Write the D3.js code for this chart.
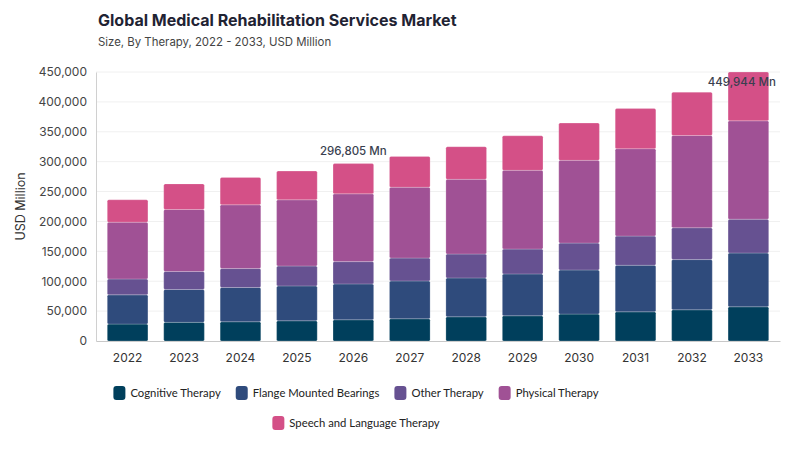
<!DOCTYPE html>
<html>
<head>
<meta charset="utf-8">
<script src="https://cdn.jsdelivr.net/npm/d3@7"></script>
<style>
  body { margin: 0; background: #fff; }
  svg { font-family: Inter, "Noto Sans", sans-serif; }
</style>
</head>
<body>
<div id="chart"></div>
<script>
// chart data
var years = ['2022','2023','2024','2025','2026','2027','2028','2029','2030','2031','2032','2033'];
var seriesNames = ['Cognitive Therapy','Flange Mounted Bearings','Other Therapy','Physical Therapy','Speech and Language Therapy'];
var cognitive = [28300, 31200, 32200, 33800, 35500, 37200, 40500, 42200, 45000, 48800, 52200, 57200];
var flange    = [48900, 55000, 57300, 58400, 60000, 63300, 65000, 70000, 73800, 77900, 84000, 90000];
var other     = [26600, 30000, 31700, 33300, 37300, 38300, 40000, 41600, 45000, 48800, 53300, 56600];
var physical  = [95000, 103800, 106600, 110700, 113400, 118400, 125000, 131700, 138400, 146200, 154300, 164500];
var speech    = [37400, 42800, 45900, 48000, 50605, 51600, 54500, 57800, 62300, 67100, 72400, 81644];
var yTicks = [0, 50000, 100000, 150000, 200000, 250000, 300000, 350000, 400000, 450000];
var labelYears = ['2026', '2033'];

var colors = ['#003f5c', '#2f4b7c', '#665191', '#a05195', '#d45087'];

var W = 800, H = 450;
var margin = {top: 72, right: 20, bottom: 109, left: 96};
var width = W - margin.left - margin.right,
    height = H - margin.top - margin.bottom;

var svg = d3.select('#chart').append('svg')
    .attr('width', W)
    .attr('height', H);

svg.append('text')
    .attr('x', 98).attr('y', 26)
    .attr('font-size', 16).attr('font-weight', 700).attr('fill', '#1f2333')
    .text('Global Medical Rehabilitation Services Market');
svg.append('text')
    .attr('x', 98).attr('y', 46)
    .attr('font-size', 11.4).attr('fill', '#444')
    .text('Size, By Therapy, 2022 - 2033, USD Million');

var table = years.map(function(yr, i) {
    return {
        year: yr,
        'Cognitive Therapy': cognitive[i],
        'Flange Mounted Bearings': flange[i],
        'Other Therapy': other[i],
        'Physical Therapy': physical[i],
        'Speech and Language Therapy': speech[i]
    };
});
var stacked = d3.stack().keys(seriesNames)(table);

var x = d3.scaleBand()
    .domain(years)
    .range([0, width])
    .paddingInner(0.28)
    .paddingOuter(0.2);

var y = d3.scaleLinear()
    .domain([0, 450000])
    .range([height, 0]);

var g = svg.append('g')
    .attr('transform', 'translate(' + margin.left + ',' + margin.top + ')');

// grid
g.append('g')
    .attr('class', 'grid')
    .selectAll('line')
    .data(yTicks.filter(function(d) { return d > 0; }))
    .join('line')
    .attr('x1', 0).attr('x2', width)
    .attr('y1', function(d) { return y(d); })
    .attr('y2', function(d) { return y(d); })
    .attr('stroke', '#f0f0f0');

// y axis
var yAxis = g.append('g')
    .call(d3.axisLeft(y).tickValues(yTicks).tickFormat(d3.format(',')).tickSize(0).tickPadding(9));
yAxis.select('.domain').attr('stroke', '#d0d0d0');
yAxis.selectAll('text').attr('font-size', 12).attr('fill', '#444').attr('font-family', 'Inter, sans-serif');

// x axis
var xAxis = g.append('g')
    .attr('transform', 'translate(0,' + height + ')')
    .call(d3.axisBottom(x).tickSize(0).tickPadding(12));
xAxis.select('.domain').attr('stroke', '#c8c8c8');
xAxis.selectAll('text').attr('font-size', 12).attr('fill', '#333').attr('font-family', 'Inter, sans-serif');

svg.append('text')
    .attr('transform', 'translate(25,' + (margin.top + height / 2) + ') rotate(-90)')
    .attr('text-anchor', 'middle')
    .attr('font-size', 12.5).attr('fill', '#333')
    .text('USD Million');

// bars
var layers = g.append('g').selectAll('g')
    .data(stacked)
    .join('g')
    .attr('fill', function(d, i) { return colors[i]; });

layers.selectAll('rect')
    .data(function(d) { return d; })
    .join('rect')
    .attr('x', function(d) { return x(d.data.year); })
    .attr('y', function(d) { return y(d[1]); })
    .attr('width', x.bandwidth())
    .attr('height', function(d) { return y(d[0]) - y(d[1]); })
    .attr('rx', 1.5)
    .attr('stroke', 'rgba(255,255,255,0.35)')
    .attr('stroke-width', 0.6);

// total labels
var labels = g.append('g').selectAll('text')
    .data(table.filter(function(d) { return labelYears.indexOf(d.year) >= 0; }))
    .join('text')
    .attr('text-anchor', 'middle')
    .attr('font-size', 11.5).attr('font-weight', 500).attr('fill', '#3a3f4f')
    .attr('x', function(d) { return x(d.year) + x.bandwidth() / 2; })
    .attr('y', function(d) {
        var tot = d3.sum(seriesNames, function(k) { return d[k]; });
        return Math.max(y(tot) - 9, 14);
    })
    .text(function(d) {
        var tot = d3.sum(seriesNames, function(k) { return d[k]; });
        return d3.format(',')(tot) + ' Mn';
    });
// keep labels inside the plot
labels.each(function() {
    var bb = this.getBBox();
    var limit = width - 4;
    if (bb.x + bb.width > limit) {
        d3.select(this).attr('x', +d3.select(this).attr('x') - (bb.x + bb.width - limit));
    }
});

// legend
var rows = [seriesNames.slice(0, 4), seriesNames.slice(4)];
var legendCenter = 356;
rows.forEach(function(row, r) {
    var lg = svg.append('g');
    var cx = 0;
    row.forEach(function(name) {
        var it = lg.append('g');
        it.append('rect')
            .attr('width', 12).attr('height', 14)
            .attr('y', -7).attr('rx', 3)
            .attr('fill', colors[seriesNames.indexOf(name)]);
        var t = it.append('text')
            .attr('x', 17).attr('y', 4.2)
            .attr('font-family', 'Lato, sans-serif')
            .attr('font-size', 11.3).attr('fill', '#222')
            .text(name);
        var w = 17 + t.node().getComputedTextLength();
        it.attr('transform', 'translate(' + cx + ',0)');
        cx += w + 15;
    });
    var total = cx - 15;
    lg.attr('transform', 'translate(' + (legendCenter - total / 2) + ',' + (393 + r * 30) + ')');
});
</script>
</body>
</html>
